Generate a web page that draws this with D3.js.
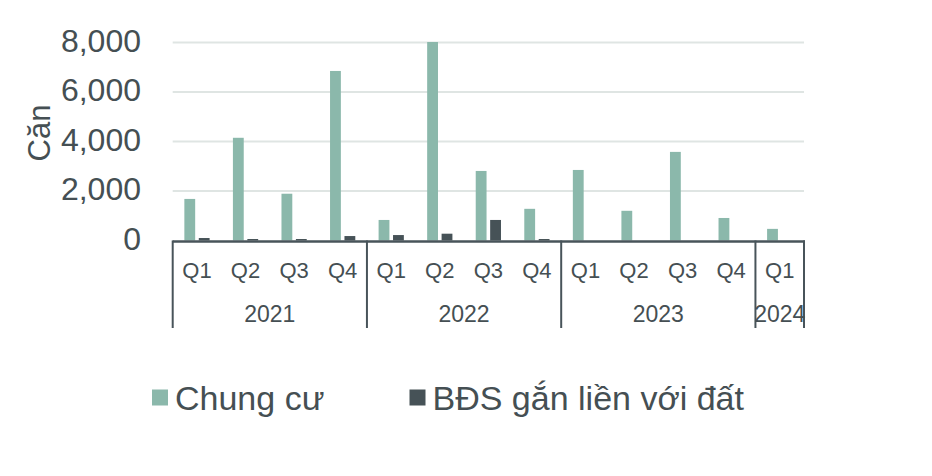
<!DOCTYPE html>
<html>
<head>
<meta charset="utf-8">
<script src="https://cdn.jsdelivr.net/npm/d3@7"></script>
<style>
  body { margin: 0; background: #fff; }
  svg { display: block; font-family: "Liberation Sans", Arial, Helvetica, sans-serif; }
</style>
</head>
<body>
<svg id="chart" width="932" height="476"></svg>
<script>
// ---- data ----
const quarters = ["Q1","Q2","Q3","Q4","Q1","Q2","Q3","Q4","Q1","Q2","Q3","Q4","Q1"];
const years = ["2021","2022","2023","2024"];
const yearCounts = [4, 4, 4, 1];
const seriesNames = ["Chung cư", "BĐS gắn liền với đất"];
const chungCu = [1680, 4150, 1890, 6850, 830, 8020, 2810, 1280, 2850, 1200, 3580, 910, 470];
const bdsDat  = [100, 60, 60, 180, 220, 275, 830, 60, 0, 0, 0, 0, 0];
const yTicks = [0, 2000, 4000, 6000, 8000];
const yLabel = "Căn";

const colors = ["#8bb8ab", "#465257"];
const textColor = "#454f53";
const axisColor = "#48545a";
const gridColor = "#dfe5e3";

const svg = d3.select("#chart");
const plotLeft = 172.7, plotRight = 804, plotTop = 42.5, plotBottom = 240.5;

const x0 = d3.scaleBand().domain(d3.range(quarters.length)).range([plotLeft, plotRight]).paddingInner(0.48).paddingOuter(0.24);
const x1 = d3.scaleBand().domain([0, 1]).range([0, x0.bandwidth()]).paddingInner(0.25);
const xCat = d3.scaleBand().domain(d3.range(quarters.length)).range([plotLeft, plotRight]);
const y = d3.scaleLinear().domain([0, 8000]).range([plotBottom, plotTop]);

// gridlines
svg.append("g").selectAll("line").data(yTicks.filter(d => d > 0)).join("line")
  .attr("x1", plotLeft).attr("x2", plotRight)
  .attr("y1", d => y(d)).attr("y2", d => y(d))
  .attr("stroke", gridColor).attr("stroke-width", 2);

// y tick labels
const fmt = d3.format(",");
svg.append("g").selectAll("text").data(yTicks).join("text")
  .attr("x", 141).attr("y", d => y(d) - 2)
  .attr("dy", "0.35em")
  .attr("text-anchor", "end")
  .attr("font-size", 32)
  .attr("fill", textColor)
  .text(d => fmt(d));

// y axis label
svg.append("text")
  .attr("transform", "translate(50,133) rotate(-90)")
  .attr("text-anchor", "middle")
  .attr("font-size", 31)
  .attr("fill", textColor)
  .text(yLabel);

// bars
const series = [chungCu, bdsDat];
series.forEach((vals, si) => {
  svg.append("g").selectAll("rect").data(vals).join("rect")
    .attr("x", (d, i) => x0(i) + x1(si))
    .attr("width", x1.bandwidth())
    .attr("y", d => y(d))
    .attr("height", d => plotBottom - y(d))
    .attr("fill", colors[si]);
});

// x axis line
svg.append("line")
  .attr("x1", plotLeft).attr("x2", plotRight + 1)
  .attr("y1", plotBottom + 1).attr("y2", plotBottom + 1)
  .attr("stroke", axisColor).attr("stroke-width", 2.5);

// separators
let cum = [0];
yearCounts.forEach(c => cum.push(cum[cum.length - 1] + c));
const sepX = cum.map(k => k < quarters.length ? xCat(k) : plotRight);
svg.append("g").selectAll("line").data(sepX).join("line")
  .attr("x1", d => d).attr("x2", d => d)
  .attr("y1", plotBottom).attr("y2", 328)
  .attr("stroke", axisColor).attr("stroke-width", 2);

// quarter labels
svg.append("g").selectAll("text").data(quarters).join("text")
  .attr("x", (d, i) => xCat(i) + xCat.bandwidth() / 2)
  .attr("y", 277.5)
  .attr("text-anchor", "middle")
  .attr("font-size", 22)
  .attr("fill", textColor)
  .text(d => d);

// year labels
svg.append("g").selectAll("text").data(years).join("text")
  .attr("x", (d, i) => (sepX[i] + sepX[i + 1]) / 2)
  .attr("y", 322)
  .attr("text-anchor", "middle")
  .attr("font-size", 23)
  .attr("fill", textColor)
  .text(d => d);

// legend
const legendX = [152, 409.5];
seriesNames.forEach((name, i) => {
  svg.append("rect").attr("x", legendX[i]).attr("y", 389.5).attr("width", 16).attr("height", 16).attr("fill", colors[i]);
  svg.append("text").attr("x", legendX[i] + 23).attr("y", 410)
    .attr("font-size", 34).attr("fill", textColor).text(name);
});
</script>
</body>
</html>
